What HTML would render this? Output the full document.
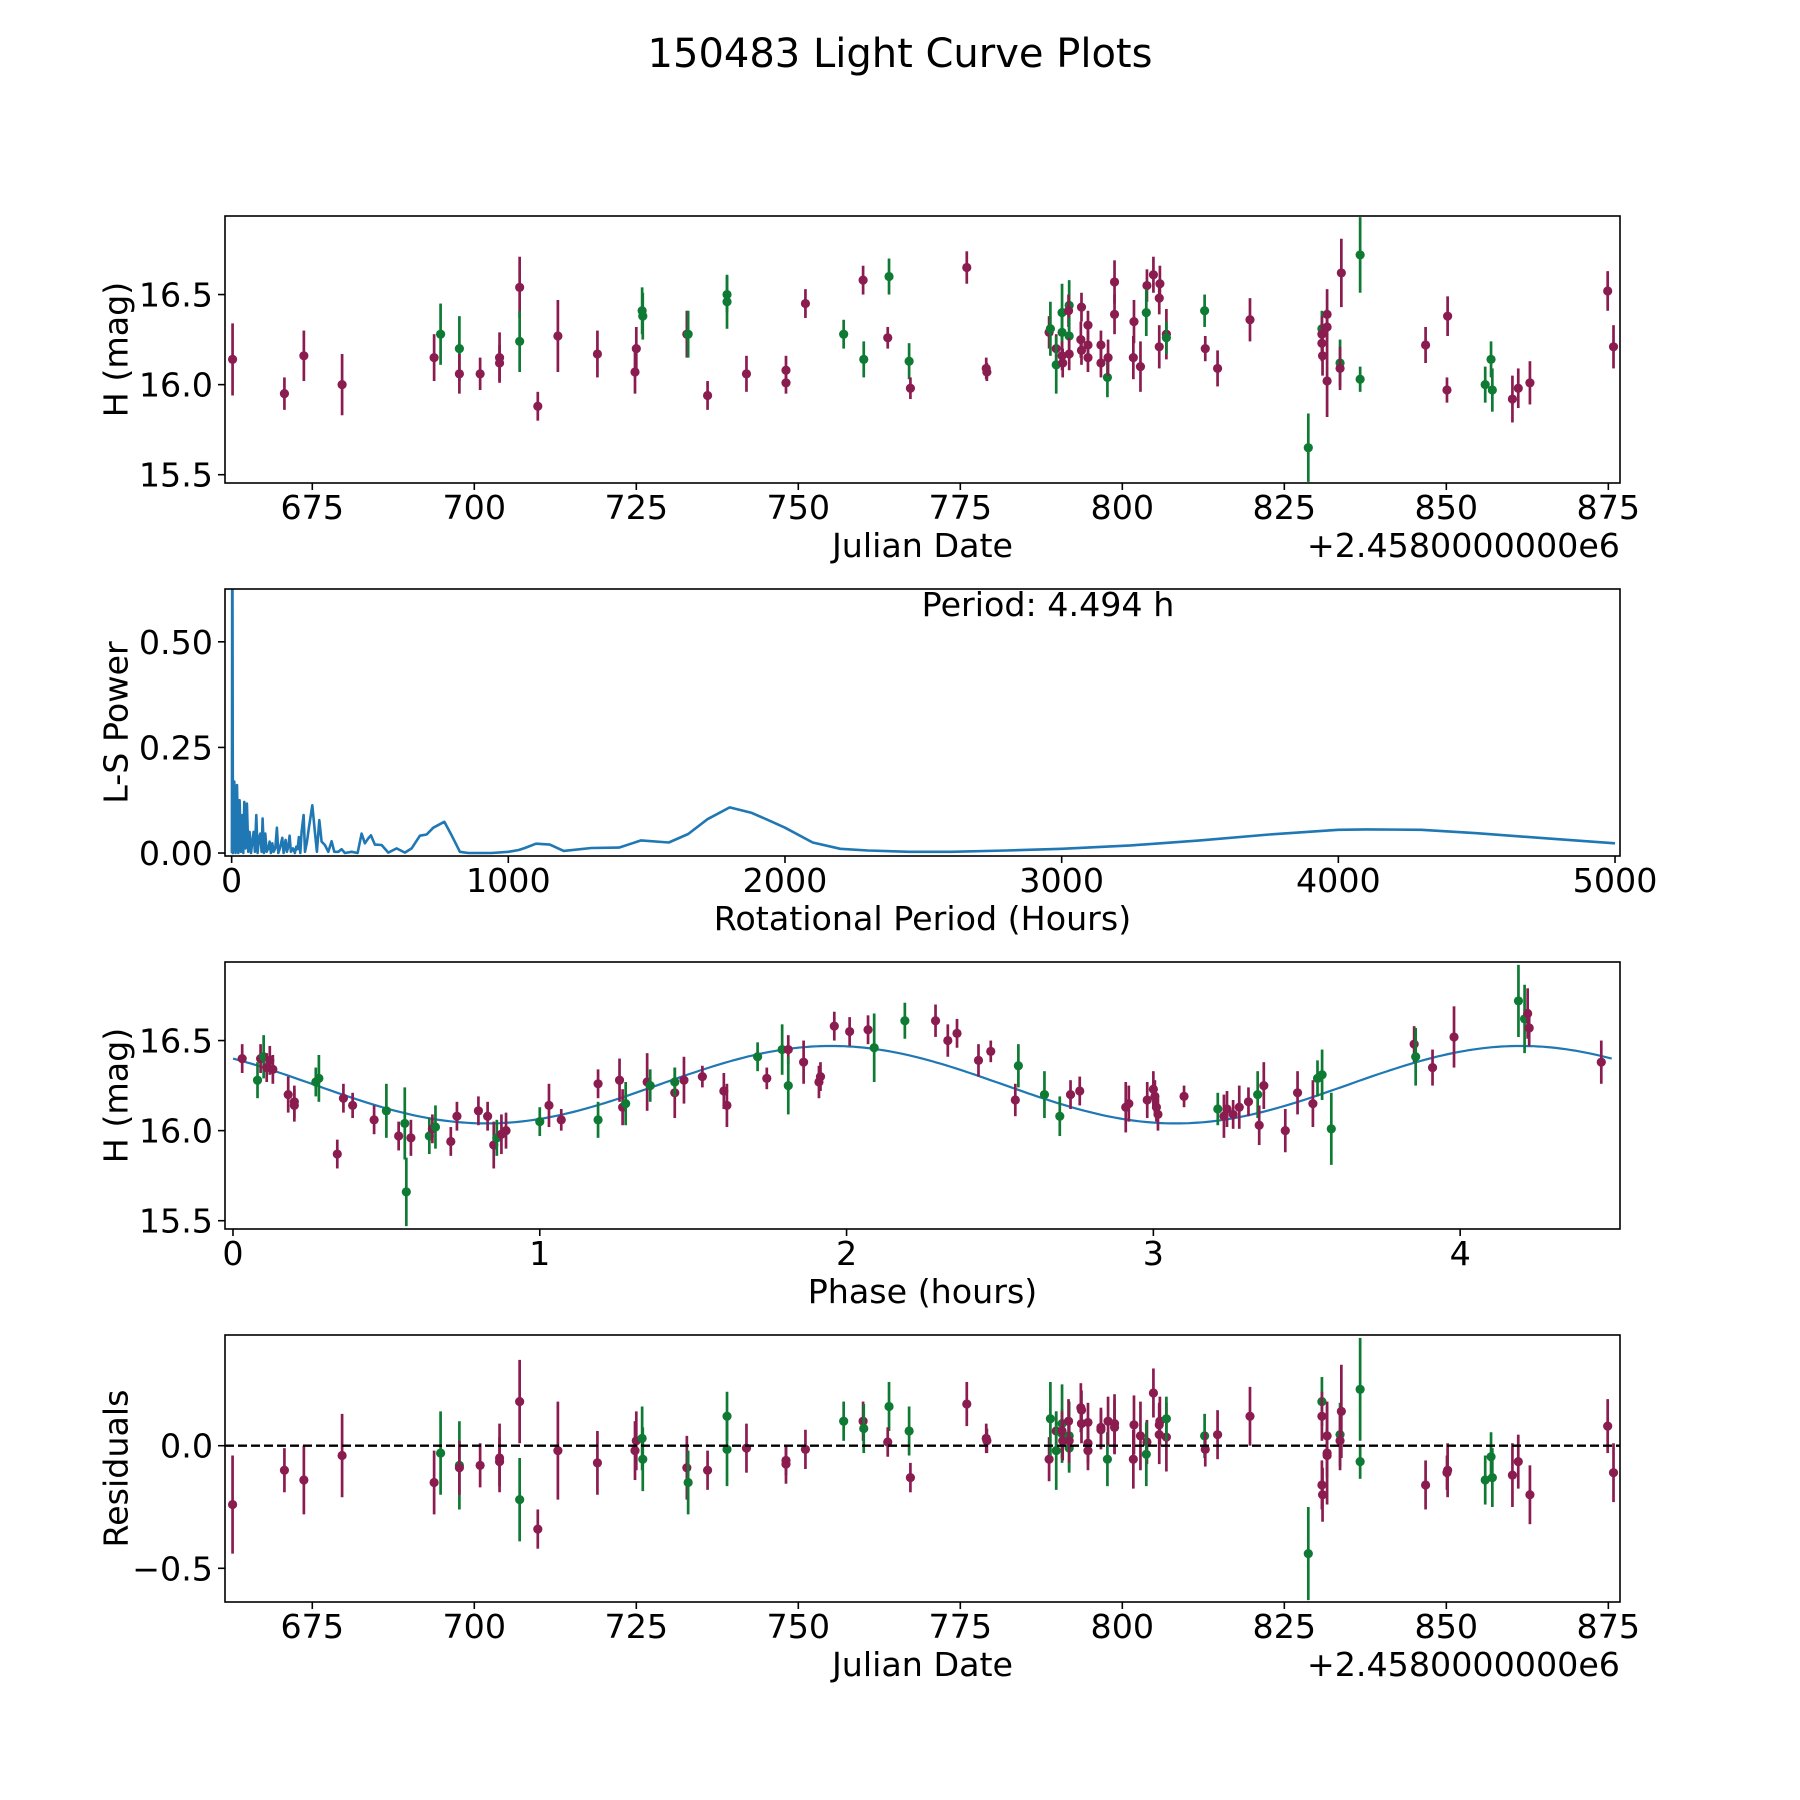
<!DOCTYPE html>
<html><head><meta charset="utf-8"><title>150483 Light Curve Plots</title>
<style>html,body{margin:0;padding:0;background:#fff}svg{display:block}text{font-family:"DejaVu Sans","Liberation Sans",sans-serif;fill:#000}</style>
</head><body>
<svg id="fig" width="1800" height="1800" viewBox="0 0 1800 1800" xmlns="http://www.w3.org/2000/svg">
<rect x="0" y="0" width="1800" height="1800" fill="#fff"/>
<text x="900" y="67" font-size="40" text-anchor="middle">150483 Light Curve Plots</text>
</svg>
<script>
// ---- Light curve data (JD - 2458000) ----
const dates = [662.7,670.7,673.7,679.6,693.8,694.8,697.7,697.7,700.9,703.9,703.9,707.0,707.0,709.8,712.9,719.0,724.8,725.0,725.9,726.0,732.8,733.0,736.0,739.0,739.0,742.0,748.1,748.1,751.1,757.0,760.0,760.1,764.0,763.8,767.1,767.3,776.0,779.0,779.1,
788.7,788.9,789.8,789.8,790.7,790.7,790.7,790.8,791.8,791.7,791.8,791.8,793.7,793.6,793.7,794.7,794.7,794.7,796.7,796.7,797.7,797.8,798.8,798.8,801.8,801.7,802.8,803.8,803.7,804.8,805.8,805.7,805.7,806.8,806.8,812.7,812.8,814.7,819.7,828.7,
830.8,830.8,830.8,830.9,831.6,831.6,831.6,833.6,833.6,833.8,836.7,836.7,846.8,850.2,850.1,856.0,857.1,856.9,860.2,861.1,862.9,874.9,875.8];
const mags = [16.14,15.95,16.16,16.00,16.15,16.28,16.20,16.06,16.06,16.15,16.12,16.54,16.24,15.88,16.27,16.17,16.07,16.20,16.41,16.38,16.28,16.28,15.94,16.46,16.50,16.06,16.01,16.08,16.45,16.28,16.58,16.14,16.60,16.26,16.13,15.98,16.65,16.09,16.07,
16.29,16.31,16.20,16.11,16.40,16.29,16.16,16.12,16.44,16.41,16.27,16.17,16.43,16.25,16.19,16.33,16.22,16.15,16.22,16.12,16.04,16.15,16.57,16.39,16.35,16.15,16.10,16.55,16.40,16.61,16.56,16.48,16.21,16.28,16.26,16.41,16.20,16.09,16.36,15.65,
16.31,16.28,16.23,16.16,16.39,16.32,16.02,16.12,16.09,16.62,16.72,16.03,16.22,16.38,15.97,16.00,15.97,16.14,15.92,15.98,16.01,16.52,16.21];
const errs = [0.20,0.09,0.14,0.17,0.13,0.17,0.18,0.11,0.09,0.14,0.10,0.17,0.17,0.08,0.20,0.13,0.12,0.12,0.13,0.13,0.13,0.13,0.08,0.15,0.10,0.10,0.06,0.08,0.08,0.08,0.08,0.10,0.10,0.06,0.10,0.06,0.09,0.06,0.05,
0.09,0.15,0.08,0.16,0.16,0.10,0.08,0.08,0.14,0.09,0.10,0.09,0.08,0.10,0.08,0.08,0.08,0.08,0.08,0.08,0.11,0.10,0.12,0.11,0.12,0.12,0.14,0.09,0.13,0.10,0.10,0.09,0.12,0.14,0.09,0.09,0.07,0.10,0.12,0.19,
0.10,0.10,0.10,0.11,0.14,0.10,0.20,0.13,0.12,0.19,0.21,0.07,0.10,0.11,0.07,0.10,0.12,0.10,0.13,0.11,0.12,0.11,0.12];
const filterStr = "pppppggpppppgpppppggpgpggppppgpggpgpppp"+"pgpgggppgpgpppppppppgpppppppgpppppggpppgg"+"ppppppgppggpppgggpppppgpp";
const resid = [-0.24,-0.10,-0.14,-0.04,-0.15,-0.03,-0.08,-0.09,-0.08,-0.05,-0.065,0.18,-0.22,-0.34,-0.02,-0.07,-0.02,0.02,0.03,-0.055,-0.09,-0.15,-0.10,-0.015,0.12,-0.01,-0.06,-0.075,-0.015,0.10,0.10,0.07,0.16,0.015,0.06,-0.13,0.17,0.03,0.02,
-0.055,0.11,0.06,-0.02,0.09,0.05,0.06,0.02,0.04,0.10,-0.01,0.02,0.145,0.155,0.09,0.095,-0.02,0.01,0.065,0.075,-0.055,0.10,0.09,0.075,0.085,-0.055,0.04,0.015,-0.035,0.215,0.10,0.085,0.045,0.035,0.11,0.04,-0.015,0.045,0.12,-0.44,
0.18,0.12,-0.16,-0.20,0.04,-0.03,-0.04,0.045,0.02,0.14,0.23,-0.065,-0.16,-0.10,-0.11,-0.14,-0.13,-0.045,-0.12,-0.065,-0.20,0.08,-0.11];

// ---- Phase-folded data ----
const phases = [0.03,0.08,0.09,0.10,0.11,0.12,0.13,0.18,0.20,0.20,0.27,0.28,0.34,0.36,0.39,0.46,0.50,0.54,0.56,0.565,0.58,0.64,0.65,0.66,0.71,0.73,0.80,0.83,0.85,0.86,0.875,0.89,1.00,1.03,1.07,1.19,1.19,1.26,1.27,1.28,1.35,1.36,1.44,1.44,1.47,1.53,1.60,1.61,1.71,1.74,1.79,1.81,1.81,1.86,1.91,1.915,1.96,2.01,2.07,2.09,2.19,2.29,2.33,2.36,2.43,2.47,2.56,2.55,2.645,2.695,2.73,2.76,2.91,2.92,2.98,3.00,3.005,3.01,3.015,3.10,3.21,3.23,3.24,3.26,3.28,3.31,3.34,3.345,3.36,3.43,3.47,3.52,3.535,3.55,3.58,3.85,3.855,3.91,3.98,4.19,4.21,4.22,4.225,4.46];
const phaseMags = [16.40,16.28,16.40,16.41,16.35,16.39,16.34,16.20,16.16,16.14,16.27,16.29,15.87,16.18,16.14,16.06,16.11,15.97,16.04,15.66,15.96,15.97,16.01,16.02,15.94,16.08,16.11,16.08,15.92,15.96,15.98,16.00,16.05,16.14,16.06,16.26,16.06,16.28,16.13,16.15,16.27,16.25,16.21,16.27,16.28,16.30,16.22,16.14,16.41,16.29,16.45,16.45,16.25,16.38,16.27,16.30,16.58,16.55,16.56,16.46,16.61,16.61,16.50,16.54,16.39,16.44,16.36,16.17,16.20,16.08,16.20,16.22,16.13,16.15,16.17,16.23,16.19,16.13,16.09,16.19,16.12,16.08,16.12,16.09,16.13,16.16,16.20,16.03,16.25,16.00,16.21,16.15,16.29,16.31,16.01,16.48,16.41,16.35,16.52,16.72,16.62,16.65,16.57,16.38];
const phaseErrs = [0.08,0.10,0.08,0.12,0.08,0.08,0.08,0.10,0.09,0.09,0.08,0.13,0.08,0.08,0.07,0.08,0.15,0.08,0.20,0.19,0.10,0.10,0.08,0.12,0.08,0.08,0.08,0.08,0.13,0.10,0.11,0.10,0.08,0.12,0.06,0.08,0.10,0.12,0.10,0.12,0.16,0.09,0.14,0.08,0.13,0.06,0.10,0.12,0.08,0.06,0.14,0.08,0.16,0.12,0.09,0.08,0.08,0.08,0.08,0.19,0.10,0.09,0.09,0.08,0.09,0.06,0.12,0.09,0.13,0.11,0.08,0.08,0.14,0.10,0.10,0.10,0.09,0.08,0.09,0.06,0.09,0.12,0.10,0.08,0.12,0.08,0.13,0.11,0.13,0.12,0.12,0.13,0.10,0.14,0.20,0.10,0.16,0.10,0.17,0.20,0.19,0.14,0.10,0.12];
const phaseFilterStr = "pgpgpppppp"+"ggppppgpgg"+"pgpgpppppg"+"ppgpppgppg"+"pgpgppppgp"+"gpgppppppg"+"gpppppgpgg"+"pppppppppp"+"gpppppgppp"+"ppgggpgppg"+"gppp";
// model fit: [mean, amplitude, peak phase (h), half period (h)]
const modelParams = [16.255, 0.215, 1.95, 2.247];
const modelPhaseRange = [0.0, 4.494];

// ---- Periodogram ----
const lsPeriods = [0,1,2.3,4.7,9.5,14.3,19.2,24,28.8,33.6,38.4,42,45.7,50.5,55.3,60.1,65,69.8,74.6,79.4,84.2,89,93.9,98.7,103.5,108.3,111.9,116.7,121.6,126.4,132.4,137.2,142,146.9,151.7,157.7,163.7,168.6,174.6,183,187.8,195,199.9,204.7,209.5,214.3,221.6,228.8,233.6,238.4,243.2,248.1,252.9,260.1,265,272.2,279.4,291.4,301.1,308.3,316.7,325.2,337.2,349.3,361.3,371,385.4,397.4,409.5,433.6,455.3,469.7,481.8,493.8,503.5,517.9,542,566.1,596.2,626.3,650.4,680.5,704.6,728.7,768.5,795,825.1,855.2,891.4,939.6,999.8,1036,1060,1100,1150,1200,1300,1400,1480,1580,1650,1720,1800,1880,1950,2000,2100,2200,2300,2450,2600,2800,3000,3250,3500,3750,4000,4100,4300,4500,4750,5000];
const lsPower = [0.0,0.0,0.9,0.0,0.169,0.0,0.161,0.0,0.125,0.003,0.090,0.0,0.121,0.011,0.117,0.003,0.050,0.0,0.027,0.050,0.003,0.090,0.0,0.035,0.046,0.003,0.082,0.0,0.046,0.003,0.011,0.027,0.0,0.023,0.003,0.011,0.060,0.0,0.011,0.036,0.0,0.031,0.003,0.015,0.041,0.003,0.011,0.0,0.015,0.009,0.038,0.0,0.050,0.090,0.003,0.027,0.060,0.113,0.050,0.003,0.078,0.027,0.019,0.003,0.028,0.003,0.003,0.009,0.0,0.003,0.0,0.046,0.023,0.035,0.042,0.020,0.019,0.001,0.011,0.001,0.011,0.041,0.044,0.060,0.074,0.042,0.003,0.0,0.0,0.0,0.003,0.007,0.012,0.022,0.020,0.005,0.012,0.013,0.030,0.025,0.045,0.080,0.108,0.095,0.075,0.060,0.025,0.010,0.006,0.003,0.003,0.006,0.010,0.018,0.030,0.044,0.055,0.056,0.055,0.047,0.035,0.023];
const periodLabel = "Period: 4.494 h";

const NS = "http://www.w3.org/2000/svg";
const svg = document.getElementById('fig');
const PURPLE = "#8a1c50", GREEN = "#0f7a33", BLUE = "#1f77b4";
const FS = 33.3;

function mk(tag, attrs, parent) {
  const el = document.createElementNS(NS, tag);
  for (const k in attrs) el.setAttribute(k, attrs[k]);
  (parent || svg).appendChild(el);
  return el;
}
function makePanel(name, top, xlim, ylim) {
  const L = 225, R = 1620, T = top, B = top + 267;
  const sx = v => L + (v - xlim[0]) / (xlim[1] - xlim[0]) * (R - L);
  const sy = v => B - (v - ylim[0]) / (ylim[1] - ylim[0]) * (B - T);
  const g = mk('g', {});
  
  
  const cid = 'clip-' + name;
  const cp = mk('clipPath', {id: cid}, g);
  mk('rect', {x: L, y: T, width: R - L, height: B - T}, cp);
  const plot = mk('g', {'clip-path': 'url(#' + cid + ')'}, g);
  
  
  return {L, R, T, B, sx, sy, g, plot};
}
function frame(p) {
  const r = mk('rect', {x: p.L, y: p.T, width: p.R - p.L, height: p.B - p.T, fill: 'none', stroke: '#000', 'stroke-width': 1.6}, p.g);
  
  
}
function xticks(p, vals, labels) {
  vals.forEach((v, i) => {
    const x = p.sx(v);
    mk('line', {x1: x, x2: x, y1: p.B, y2: p.B + 7, stroke: '#000', 'stroke-width': 1.6}, p.g);
    const t = mk('text', {x: x, y: p.B + 36, 'font-size': FS, 'text-anchor': 'middle'}, p.g);
    
    
    t.textContent = labels[i];
  });
}
function yticks(p, vals, labels) {
  vals.forEach((v, i) => {
    const y = p.sy(v);
    mk('line', {x1: p.L - 7, x2: p.L, y1: y, y2: y, stroke: '#000', 'stroke-width': 1.6}, p.g);
    const t = mk('text', {x: p.L - 12, y: y + 12, 'font-size': FS, 'text-anchor': 'end'}, p.g);
    
    
    t.textContent = labels[i];
  });
}
function labels(p, xl, yl, offset) {
  const t = mk('text', {x: (p.L + p.R) / 2, y: p.B + 74, 'font-size': FS, 'text-anchor': 'middle'}, p.g);
  
  
  t.textContent = xl;
  const cy = (p.T + p.B) / 2;
  const u = mk('text', {x: 116, y: cy, 'font-size': FS, 'text-anchor': 'middle', 'dominant-baseline': 'central', transform: 'rotate(-90 116 ' + cy + ')'}, p.g);
  
  
  u.textContent = yl;
  if (offset) {
    const o = mk('text', {x: p.R, y: p.B + 74, 'font-size': FS, 'text-anchor': 'end'}, p.g);
    
    
    o.textContent = offset;
  }
}
function errPoint(p, x, y, e, c) {
  const col = c === 'g' ? GREEN : PURPLE;
  const g = mk('g', {}, p.plot);
  
  
  mk('line', {x1: p.sx(x), x2: p.sx(x), y1: p.sy(y - e), y2: p.sy(y + e), stroke: col, 'stroke-width': 2.7}, g);
  mk('circle', {cx: p.sx(x), cy: p.sy(y), r: 4.6, fill: col}, g);
}
const dateTicks = [675,700,725,750,775,800,825,850,875];
const dateTickLabels = ["675","700","725","750","775","800","825","850","875"];

// Panel 1
const p1 = makePanel('light-curve-panel', 216, [661.53, 876.8], [15.454, 16.936]);
dates.forEach((d, i) => errPoint(p1, d, mags[i], errs[i], filterStr[i]));
frame(p1);
xticks(p1, dateTicks, dateTickLabels);
yticks(p1, [15.5, 16.0, 16.5], ["15.5", "16.0", "16.5"]);
labels(p1, "Julian Date", "H (mag)", "+2.4580000000e6");

// Panel 2
const p2 = makePanel('periodogram-panel', 589, [-24, 5018], [-0.007, 0.625]);
let dpath = lsPeriods.map((v, i) => (i ? 'L' : 'M') + p2.sx(v).toFixed(1) + ' ' + p2.sy(lsPower[i]).toFixed(1)).join(' ');
const ln = mk('path', {d: dpath, fill: 'none', stroke: BLUE, 'stroke-width': 2.6, 'stroke-linejoin': 'round'}, p2.plot);


frame(p2);
xticks(p2, [0,1000,2000,3000,4000,5000], ["0","1000","2000","3000","4000","5000"]);
yticks(p2, [0, 0.25, 0.5], ["0.00", "0.25", "0.50"]);
labels(p2, "Rotational Period (Hours)", "L-S Power", null);
const pt = mk('text', {x: 1048, y: 616, 'font-size': FS, 'text-anchor': 'middle'}, p2.g);


pt.textContent = periodLabel;

// Panel 3
const p3 = makePanel('phase-panel', 962, [-0.026, 4.521], [15.454, 16.936]);
const modelPts = [];
for (let k = 0; k <= 300; k++) {
  const ph = modelPhaseRange[0] + (modelPhaseRange[1] - modelPhaseRange[0]) * k / 300;
  const m = modelParams[0] + modelParams[1] * Math.cos(2 * Math.PI * (ph - modelParams[2]) / modelParams[3]);
  modelPts.push((k ? 'L' : 'M') + p3.sx(ph).toFixed(1) + ' ' + p3.sy(m).toFixed(1));
}
const ml = mk('path', {d: modelPts.join(' '), fill: 'none', stroke: BLUE, 'stroke-width': 2.2}, p3.plot);


phases.forEach((ph, i) => errPoint(p3, ph, phaseMags[i], phaseErrs[i], phaseFilterStr[i]));
frame(p3);
xticks(p3, [0,1,2,3,4], ["0","1","2","3","4"]);
yticks(p3, [15.5, 16.0, 16.5], ["15.5", "16.0", "16.5"]);
labels(p3, "Phase (hours)", "H (mag)", null);

// Panel 4
const p4 = makePanel('residuals-panel', 1335, [661.53, 876.8], [-0.6374, 0.4515]);
dates.forEach((d, i) => errPoint(p4, d, resid[i], errs[i], filterStr[i]));
const zl = mk('line', {x1: p4.L, x2: p4.R, y1: p4.sy(0), y2: p4.sy(0), stroke: '#000', 'stroke-width': 2.4, 'stroke-dasharray': '9 4'}, p4.plot);


frame(p4);
xticks(p4, dateTicks, dateTickLabels);
yticks(p4, [-0.5, 0.0], ["\u22120.5", "0.0"]);
labels(p4, "Julian Date", "Residuals", "+2.4580000000e6");
</script>
</body></html>
